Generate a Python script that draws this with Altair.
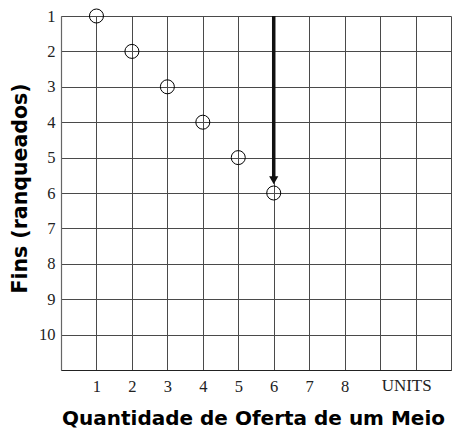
import altair as alt
import pandas as pd

# ---- data ----
supply_qty = [1, 2, 3, 4, 5, 6]
end_rank = [1, 2, 3, 4, 5, 6]
x_tick_values = [1, 2, 3, 4, 5, 6, 7, 8]
x_grid_values = list(range(0, 12))
y_tick_values = [1, 2, 3, 4, 5, 6, 7, 8, 9, 10]
y_grid_values = list(range(1, 12))
unit_label = ["UNITS"]
unit_pos = [9.75]
arrow_x = [6]
arrow_from = [1]
arrow_to = [5.6]
arrow_head = [5.64]

W, H = 390, 354

pts = pd.DataFrame({"q": supply_qty, "r": end_rank})
arrow = pd.DataFrame({"q": arrow_x, "r": arrow_from, "r2": arrow_to})
head = pd.DataFrame({"q": arrow_x, "r": arrow_head})
units = pd.DataFrame({"q": unit_pos, "r": [1], "t": unit_label})

xscale = alt.Scale(domain=[0, 11], nice=False, zero=False)
yscale = alt.Scale(domain=[1, 11], nice=False, zero=False, reverse=True)

x_axis = alt.Axis(
    values=x_grid_values,
    labelExpr="datum.value >= %d && datum.value <= %d ? datum.label : ''" % (min(x_tick_values), max(x_tick_values)),
    labelOverlap=False, labelFlush=False, labelBound=False,
    grid=True, gridColor="#4a4a4a", gridWidth=1, gridOpacity=1,
    ticks=False, domainColor="#222", domainWidth=1.2,
    labelFont="Liberation Serif", labelFontSize=16.5, labelColor="#222",
    labelPadding=8, labelBaseline="top",
    title="Quantidade de Oferta de um Meio",
    titleFont="DejaVu Sans", titleFontWeight="bold", titleFontSize=20, titleColor="#000",
    titleX=192, titleY=54, titleBaseline="alphabetic", titleAlign="center",
)
y_axis = alt.Axis(
    values=y_grid_values,
    labelExpr="datum.value <= %d ? datum.label : ''" % max(y_tick_values),
    labelOverlap=False, labelFlush=False, labelBound=False,
    grid=True, gridColor="#4a4a4a", gridWidth=1, gridOpacity=1,
    ticks=False, domainColor="#666", domainWidth=1.2,
    labelFont="Liberation Serif", labelFontSize=16.5, labelColor="#222",
    labelPadding=6, labelBaseline="middle",
    title="Fins (ranqueados)",
    titleFont="DejaVu Sans", titleFontWeight="bold", titleFontSize=20.5, titleColor="#000",
    titleX=-35, titleY=172, titleBaseline="alphabetic", titleAlign="center", titleAngle=270,
)

circles = alt.Chart(pts).mark_point(
    shape="circle", filled=False, size=196, color="#000", strokeWidth=1, opacity=1
)

shaft = alt.Chart(arrow).mark_rule(color="#111", strokeWidth=3.5).encode(
    y2="r2:Q",
)

tip = alt.Chart(head).mark_point(
    shape="triangle-down", filled=True, size=85, color="#111", opacity=1
)

unit_text = alt.Chart(units).mark_text(
    font="Liberation Serif", fontSize=17, color="#222", baseline="top", align="center"
).encode(
    y=alt.value(H + 8),
    text="t:N",
)

chart = alt.layer(circles, shaft, tip, unit_text).encode(
    x=alt.X("q:Q", scale=xscale, axis=x_axis),
    y=alt.Y("r:Q", scale=yscale, axis=y_axis),
).properties(
    width=W, height=H,
    autosize=alt.AutoSizeParams(type="none"),
    padding={"left": 61, "top": 16, "right": 12, "bottom": 67},
    background="white",
).configure_view(stroke=None)

chart.save("out.html", embed_options={"renderer": "svg", "actions": False})
